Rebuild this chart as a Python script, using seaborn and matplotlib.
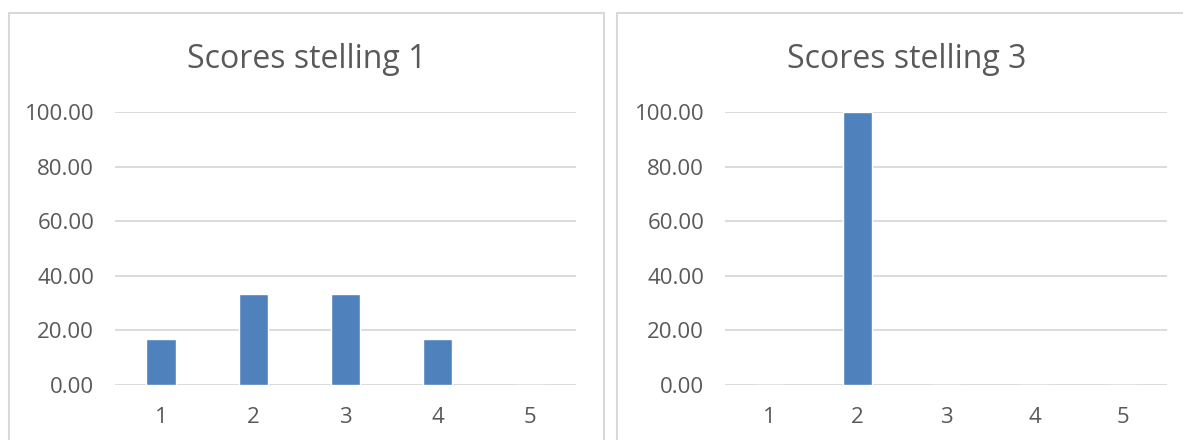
import matplotlib
matplotlib.use("Agg")
import matplotlib.pyplot as plt
import matplotlib.patches as mpatches
import seaborn as sns
import pandas as pd

categories = ["1", "2", "3", "4", "5"]
scores_1 = [16.67, 33.33, 33.33, 16.67, 0.0]
scores_3 = [0.0, 100.0, 0.0, 0.0, 0.0]
titles = ["Scores stelling 1", "Scores stelling 3"]
y_ticks = [0, 20, 40, 60, 80, 100]

sns.set_theme(style="white")
plt.rcParams["font.family"] = ["Open Sans", "DejaVu Sans"]

W, H = 1183, 440
fig = plt.figure(figsize=(W / 100, H / 100), dpi=100)

bar_color = "#4F81BD"
text_color = "#595959"
grid_color = "#D9D9D9"

# chart frames (px): left, right edges; top edge
frames = [(9, 604), (617, 1197)]
axes_px = [(115, 576), (725, 1167)]
y0_px, y100_px = 385, 112

for (fl, fr), (al, ar), title, vals in zip(frames, axes_px, titles, [scores_1, scores_3]):
    rect = mpatches.Rectangle((fl / W, -0.05), (fr - fl) / W, (H - 13) / H + 0.05,
                              transform=fig.transFigure, fill=False,
                              edgecolor=grid_color, linewidth=1.5)
    fig.patches.append(rect)
    ax = fig.add_axes([al / W, (H - y0_px) / H, (ar - al) / W, (y0_px - y100_px) / H])
    df = pd.DataFrame({"cat": categories, "val": vals})
    sns.barplot(data=df, x="cat", y="val", color=bar_color, width=0.32,
                saturation=1, ax=ax, zorder=3)
    ax.set_xlim(-0.5, 4.5)
    ax.set_ylim(0, 100)
    ax.set_yticks(y_ticks)
    ax.set_yticklabels([f"{t:.2f}" for t in y_ticks])
    ax.yaxis.grid(True, color=grid_color, linewidth=1.3, zorder=0)
    ax.set_axisbelow(True)
    for s in ax.spines.values():
        s.set_visible(False)
    ax.tick_params(axis="both", length=0, labelsize=16, colors=text_color)
    ax.tick_params(axis="y", pad=15)
    ax.tick_params(axis="x", pad=16)
    ax.set_xlabel("")
    ax.set_ylabel("")
    for lbl in ax.get_yticklabels() + ax.get_xticklabels():
        lbl.set_color(text_color)
    fig.text((fl + fr) / 2 / W, (H - 59) / H, title, ha="center", va="center",
             fontsize=23, color=text_color)

fig.savefig("out.png", dpi=100)
